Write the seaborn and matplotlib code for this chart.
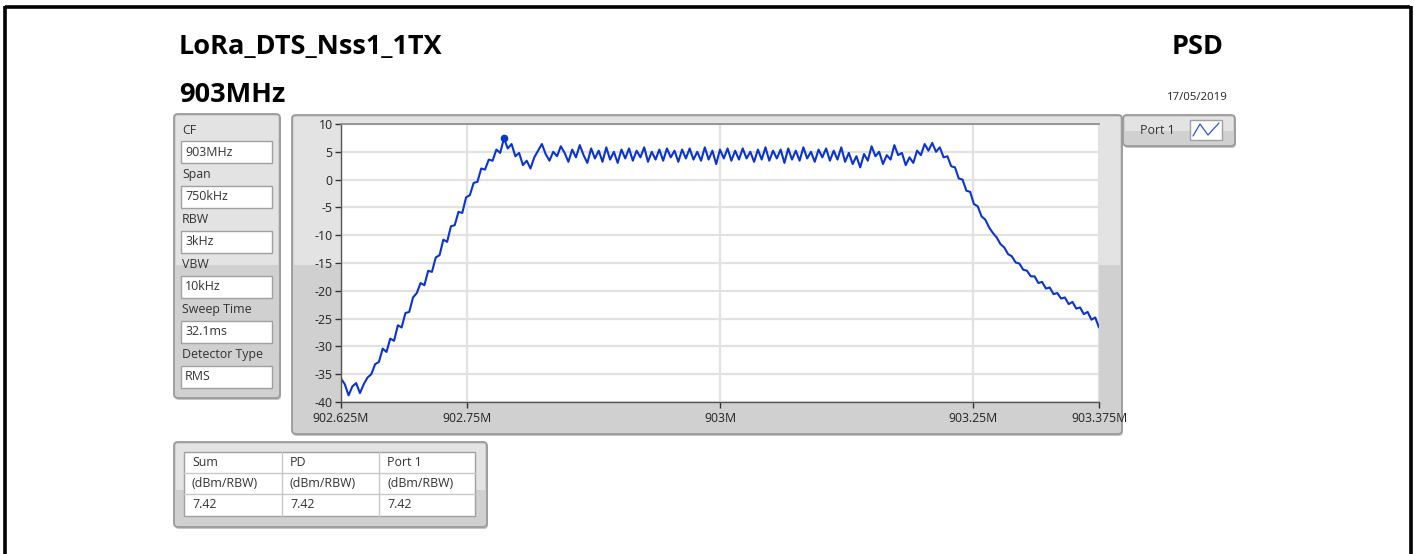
import numpy as np
import pandas as pd
import seaborn as sns
import matplotlib.pyplot as plt
from matplotlib.patches import FancyBboxPatch, Rectangle
from matplotlib.lines import Line2D

# ---------- data ----------
f_start_mhz = 902.625
f_stop_mhz = 903.375

psd_dbm = [
    -35.8, -36.8, -38.8, -37.2, -36.6, -38.4, -36.8, -35.6, -35.0, -33.2,
    -32.8, -30.4, -31.0, -28.6, -29.0, -26.2, -26.6, -24.0, -23.8, -21.2,
    -20.4, -18.6, -19.0, -16.4, -16.6, -14.0, -13.6, -10.8, -11.2, -8.4,
    -8.2, -5.8, -6.0, -3.2, -2.8, -0.6, -0.4, 2.0, 1.8, 3.6,
    3.4, 5.4, 4.8, 7.42, 5.6, 6.4, 4.2, 4.8, 2.6, 3.4,
    2.0, 4.0, 5.2, 6.4, 4.6, 3.4, 5.0, 4.2, 6.0, 4.8,
    3.2, 5.4, 4.0, 6.2, 4.4, 3.0, 5.6, 3.8, 5.2, 3.2,
    5.8, 3.6, 5.0, 3.0, 5.4, 3.8, 5.6, 3.4, 5.2, 4.0,
    5.8, 3.2, 5.0, 3.6, 5.4, 3.4, 5.6, 4.0, 5.2, 3.2,
    5.4, 3.8, 5.6, 3.6, 5.0, 3.4, 5.8, 3.6, 5.2, 2.8,
    5.4, 3.8, 5.6, 3.4, 5.2, 3.6, 5.6, 3.8, 5.0, 3.2,
    5.4, 3.6, 5.8, 3.4, 5.2, 3.8, 5.4, 3.0, 5.6, 3.6,
    5.2, 3.4, 5.8, 3.8, 5.0, 3.2, 5.4, 4.0, 5.6, 3.4,
    5.2, 3.6, 5.8, 3.2, 4.8, 2.8, 4.2, 2.2, 4.6, 3.4,
    6.0, 4.2, 5.0, 2.8, 4.4, 3.6, 6.2, 4.4, 4.8, 2.6,
    4.0, 3.0, 5.2, 4.4, 6.4, 5.2, 6.6, 5.0, 5.8, 4.0,
    4.2, 2.4, 2.2, 0.2, 0.0, -2.0, -2.2, -4.4, -4.8, -6.6,
    -7.2, -8.6, -9.6, -10.4, -11.6, -12.2, -13.4, -13.8, -14.9, -15.1,
    -16.2, -16.4, -17.4, -17.4, -18.6, -18.4, -19.6, -19.4, -20.6, -20.4,
    -21.4, -21.2, -22.4, -22.0, -23.2, -23.0, -24.2, -23.8, -25.2, -24.8,
    -26.6,
]

x_ticks = [902.625, 902.75, 903.0, 903.25, 903.375]
x_tick_labels = ["902.625M", "902.75M", "903M", "903.25M", "903.375M"]
y_ticks = [-40, -35, -30, -25, -20, -15, -10, -5, 0, 5, 10]

setting_names = ["CF", "Span", "RBW", "VBW", "Sweep Time", "Detector Type"]
setting_values = ["903MHz", "750kHz", "3kHz", "10kHz", "32.1ms", "RMS"]

table_header = ["Sum", "PD", "Port 1"]
table_units = ["(dBm/RBW)", "(dBm/RBW)", "(dBm/RBW)"]
table_values = ["7.42", "7.42", "7.42"]

title_left = "LoRa_DTS_Nss1_1TX"
subtitle_left = "903MHz"
title_right = "PSD"
date_text = "17/05/2019"
trace_name = "Port 1"

df = pd.DataFrame({
    "freq": np.linspace(f_start_mhz, f_stop_mhz, len(psd_dbm)),
    "psd": psd_dbm,
})

# ---------- figure ----------
sns.set_theme(style="white")
plt.rcParams["font.family"] = ["Open Sans", "DejaVu Sans"]

W, H = 1415, 554
fig = plt.figure(figsize=(W / 100, H / 100), dpi=100)
fig.patch.set_facecolor("white")

# background axes in pixel units, for the LabVIEW-like panels
bg = fig.add_axes([0, 0, 1, 1])
bg.set_xlim(0, W)
bg.set_ylim(H, 0)
bg.axis("off")

LIGHT = "#e3e3e3"
DARK = "#d0d0d0"
EDGE = "#9a9a9a"
TXT = "#333333"
SMALL = 8.9


def panel(x, y, w, h, split=None):
    # drop shadow
    bg.add_patch(FancyBboxPatch((x + 1, y + 2), w, h, boxstyle="round,pad=0,rounding_size=4",
                                fc="#c4c4c4", ec="none", zorder=1))
    bg.add_patch(FancyBboxPatch((x, y), w, h, boxstyle="round,pad=0,rounding_size=4",
                                fc=DARK if split else LIGHT, ec="none", zorder=2))
    if split:
        bg.add_patch(Rectangle((x + 2, y + 2), w - 4, split - y - 2, fc=LIGHT, ec="none", zorder=2))
    bg.add_patch(FancyBboxPatch((x, y), w, h, boxstyle="round,pad=0,rounding_size=4",
                                fc="none", ec=EDGE, lw=1.3, zorder=3))


def white_box(x, y, w, h):
    bg.add_patch(Rectangle((x, y), w, h, fc="white", ec="#a0a0a0", lw=1.0, zorder=4))


# black frame round the page
for xs, ys in [([5, 5], [6, H]), ([5, 1410], [6.5, 6.5]), ([1410.5, 1410.5], [6, H])]:
    bg.add_line(Line2D(xs, ys, color="black", lw=2.6, zorder=10, solid_capstyle="butt"))

# titles
bg.text(179, 47, title_left, fontsize=19.5, fontweight="bold", ha="left", va="center", color="black")
bg.text(179, 95, subtitle_left, fontsize=19.5, fontweight="bold", ha="left", va="center", color="black")
bg.text(1224, 47, title_right, fontsize=19.5, fontweight="bold", ha="right", va="center", color="black")
bg.text(1228, 98, date_text, fontsize=8.2, ha="right", va="center", color="#222222")

# settings panel
panel(174, 114, 106, 284, split=265)
for k, (name, val) in enumerate(zip(setting_names, setting_values)):
    y0 = 130 + k * 44.9
    bg.text(182, y0, name, fontsize=SMALL, ha="left", va="center", color=TXT, zorder=5)
    white_box(181, y0 + 11, 91, 22)
    bg.text(185, y0 + 22, val, fontsize=SMALL, ha="left", va="center", color=TXT, zorder=5)

# graph panel
panel(292, 115, 830, 319, split=265)

# legend panel
panel(1123, 115, 112, 31, split=131)
bg.text(1140, 131, trace_name, fontsize=SMALL, ha="left", va="center", color=TXT, zorder=5)
white_box(1190, 120, 32, 20)
bg.add_line(Line2D([1193, 1200, 1208, 1219], [136, 124, 135, 123], color="#2a55e0", lw=0.9, zorder=6))

# results table
panel(174, 442, 313, 85, split=490)
col_x = [184, 282, 379, 475]
row_y = [452, 473, 494, 516]
bg.add_patch(Rectangle((col_x[0], row_y[0]), col_x[-1] - col_x[0], row_y[-1] - row_y[0],
                       fc="white", ec="#a0a0a0", lw=1.0, zorder=4))
for cx in col_x[1:-1]:
    bg.add_line(Line2D([cx, cx], [row_y[0], row_y[-1]], color="#c8c8c8", lw=1.0, zorder=5))
for ry in row_y[1:-1]:
    bg.add_line(Line2D([col_x[0], col_x[-1]], [ry, ry], color="#c8c8c8", lw=1.0, zorder=5))
for r, row in enumerate([table_header, table_units, table_values]):
    for c, txt in enumerate(row):
        bg.text(col_x[c] + 8, (row_y[r] + row_y[r + 1]) / 2, txt, fontsize=SMALL,
                ha="left", va="center", color=TXT, zorder=6)

# ---------- spectrum plot ----------
px_l, px_r, px_t, px_b = 341, 1099, 124, 402
ax = fig.add_axes([px_l / W, 1 - px_b / H, (px_r - px_l) / W, (px_b - px_t) / H])
ax.set_facecolor("white")

sns.lineplot(data=df, x="freq", y="psd", ax=ax, color="#0a34d0", lw=1.5, sort=False,
             estimator=None, legend=False)
peak = df.loc[df["psd"].idxmax()]
ax.plot(peak["freq"], peak["psd"], "o", color="#0a34d0", ms=4.5)

ax.set_xlim(f_start_mhz, f_stop_mhz)
ax.set_ylim(-40, 10)
ax.set_xticks(x_ticks)
ax.set_xticklabels(x_tick_labels)
ax.set_yticks(y_ticks)
ax.set_yticklabels([str(v) for v in y_ticks])
ax.set_xlabel("")
ax.set_ylabel("")
ax.grid(True, color="#e2e2e2", lw=1.6)
ax.set_axisbelow(True)
ax.tick_params(axis="both", direction="out", length=4, width=1, color="#333333",
               labelsize=8.8, labelcolor="#222222", pad=3)
ax.tick_params(axis="x", bottom=True, pad=3)
ax.tick_params(axis="y", left=True, pad=2)
for side in ["left", "bottom"]:
    ax.spines[side].set_color("#555555")
    ax.spines[side].set_linewidth(1.0)
ax.spines["top"].set_color("#8c8c8c")
ax.spines["right"].set_visible(False)

fig.savefig("out.png", dpi=100)
